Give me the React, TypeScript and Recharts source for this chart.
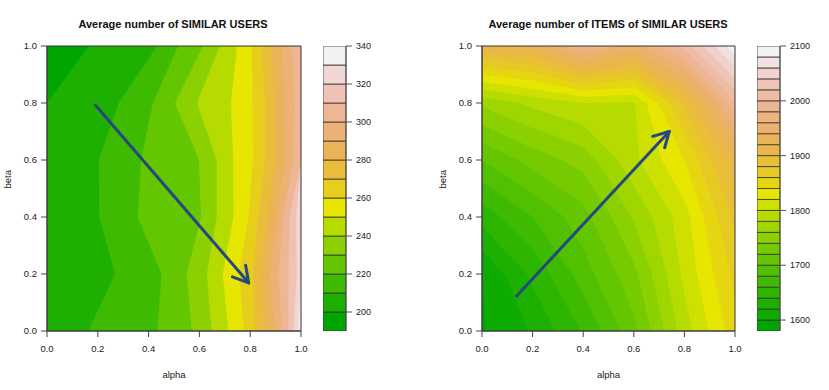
import React from "react";
import { ComposedChart, Area, Bar, XAxis, YAxis, ReferenceLine, ReferenceArea } from "recharts";

// --- colours (R terrain.colors) ---
const TERRAIN_15 = [
  "#00A600", "#1DB000", "#3EBB00", "#63C600", "#8BD000", "#B6DB00", "#E6E600", "#E7CE1D",
  "#E9BD3A", "#EAB358", "#ECB176", "#EEB694", "#EFC2B3", "#F1D6D3", "#F2F2F2",
];
const TERRAIN_26 = [
  "#00A600", "#0EAB00", "#1DB000", "#2DB600", "#3EBB00", "#50C000", "#63C600", "#76CB00",
  "#8BD000", "#A0D600", "#B6DB00", "#CEE000", "#E6E600", "#E6D612", "#E7C924", "#E8BF36",
  "#E9B848", "#EAB35A", "#EBB16D", "#ECB27F", "#EDB592", "#EEBCA5", "#EFC5B8", "#F0D1CB",
  "#F1E0DF", "#F2F2F2",
];

// --- left panel: similar users ---
const USER_TITLE = "Average number of SIMILAR USERS";
const USER_BETA = [0, 0.2, 0.4, 0.6, 0.8, 1];
const USER_LEVELS = [190, 200, 210, 220, 230, 240, 250, 260, 270, 280, 290, 300, 310, 320, 330, 340];
const USER_KEY_TICKS = [200, 220, 240, 260, 280, 300, 320, 340];
// alpha where each level (200 .. 340) is reached, one value per beta row
const USER_EDGES = [
  [0, 0, 0, 0, 0, 0.165],
  [0.162, 0.268, 0.206, 0.204, 0.282, 0.433],
  [0.434, 0.451, 0.357, 0.37, 0.417, 0.516],
  [0.57, 0.55, 0.606, 0.598, 0.504, 0.614],
  [0.648, 0.629, 0.668, 0.668, 0.59, 0.681],
  [0.714, 0.692, 0.734, 0.733, 0.724, 0.748],
  [0.776, 0.756, 0.793, 0.812, 0.81, 0.807],
  [0.819, 0.812, 0.832, 0.858, 0.858, 0.846],
  [0.858, 0.845, 0.871, 0.898, 0.898, 0.886],
  [0.898, 0.878, 0.904, 0.937, 0.93, 0.925],
  [0.924, 0.911, 0.93, 0.97, 0.976, 0.965],
  [0.95, 0.95, 0.955, 1, 1, 1],
  [0.97, 0.983, 0.98, 1, 1, 1],
  [0.99, 1, 1, 1, 1, 1],
  [1, 1, 1, 1, 1, 1],
];
const USER_ARROW = [{ x: 0.191, y: 0.792 }, { x: 0.794, y: 0.169 }];
const USER_HEAD = [{ x: 0.782, y: 0.231 }, { x: 0.73, y: 0.19 }];

// --- right panel: items of similar users ---
const ITEM_TITLE = "Average number of ITEMS of SIMILAR USERS";
const ITEM_ALPHA = [0, 0.2, 0.4, 0.6, 0.8, 1];
const ITEM_BETA = [0, 0.2, 0.4, 0.6, 0.8, 1];
// rows = beta, columns = alpha
const ITEM_Z = [
  [1598, 1622, 1662, 1714, 1790, 1852],
  [1600, 1645, 1690, 1735, 1805, 1866],
  [1648, 1680, 1712, 1762, 1812, 1885],
  [1700, 1728, 1748, 1795, 1840, 1914],
  [1765, 1785, 1800, 1798, 1885, 1998],
  [1915, 1925, 1985, 1950, 2008, 2095],
];
const ITEM_LEVELS = [
  1580, 1600, 1620, 1640, 1660, 1680, 1700, 1720, 1740, 1760, 1780, 1800, 1820, 1840,
  1860, 1880, 1900, 1920, 1940, 1960, 1980, 2000, 2020, 2040, 2060, 2080, 2100,
];
const ITEM_KEY_TICKS = [1600, 1700, 1800, 1900, 2000, 2100];
const ITEM_ARROW = [{ x: 0.137, y: 0.123 }, { x: 0.74, y: 0.7 }];
const ITEM_HEAD = [{ x: 0.675, y: 0.683 }, { x: 0.722, y: 0.643 }];

const AXIS_TICKS = [0, 0.2, 0.4, 0.6, 0.8, 1];
const ARROW_COLOR = "#26497d";
const TICK_STYLE = { fontSize: 9.5, fill: "#222" };

// left table: one row per beta, one key per level edge
const userRows = USER_BETA.map((b, j) => {
  const row: Record<string, number> = { beta: b };
  USER_EDGES.forEach((e, k) => (row[`e${k}`] = e[j]));
  return row;
});

// right table: contour line of each level, as in filled.contour (straight inside each cell)
type Pt = { a: number; b: number };
function levelEdge(L: number): Pt[] {
  const pts: Pt[] = [];
  for (let i = 0; i < ITEM_ALPHA.length; i++) {
    const col = ITEM_Z.map((r) => r[i]);
    let b = 0;
    if (L >= col[col.length - 1]) b = 1;
    else if (L > col[0]) {
      for (let j = 0; j < col.length - 1; j++) {
        if (L >= col[j] && L < col[j + 1]) {
          b = ITEM_BETA[j] + ((L - col[j]) / (col[j + 1] - col[j])) * (ITEM_BETA[j + 1] - ITEM_BETA[j]);
          break;
        }
      }
    }
    pts.push({ a: ITEM_ALPHA[i], b });
    if (i < ITEM_ALPHA.length - 1) {
      ITEM_Z.forEach((row, j) => {
        const z0 = row[i];
        const z1 = row[i + 1];
        if ((L - z0) * (L - z1) < 0) {
          pts.push({
            a: ITEM_ALPHA[i] + ((L - z0) / (z1 - z0)) * (ITEM_ALPHA[i + 1] - ITEM_ALPHA[i]),
            b: ITEM_BETA[j],
          });
        }
      });
    }
  }
  return pts.sort((p, q) => p.a - q.a);
}

function heightAt(pts: Pt[], a: number) {
  for (let s = 0; s < pts.length - 1; s++) {
    const p = pts[s];
    const q = pts[s + 1];
    if (a >= p.a - 1e-9 && a <= q.a + 1e-9) {
      if (q.a - p.a < 1e-9) return p.b;
      return p.b + ((a - p.a) / (q.a - p.a)) * (q.b - p.b);
    }
  }
  return pts[pts.length - 1].b;
}

const itemEdges = ITEM_LEVELS.map(levelEdge);
const itemAlphas = Array.from(new Set(itemEdges.flat().map((p) => +p.a.toFixed(5)))).sort((x, y) => x - y);
const itemRows = itemAlphas.map((a) => {
  const row: Record<string, number> = { alpha: a };
  itemEdges.forEach((pts, k) => (row[`l${k}`] = heightAt(pts, a)));
  return row;
});

// colour key: one stacked column, an invisible base up to the lowest level
function keyRow(levels: number[]) {
  const row: Record<string, number | string> = { name: "key", base: levels[0] };
  for (let k = 0; k < levels.length - 1; k++) row[`k${k}`] = levels[k + 1] - levels[k];
  return [row];
}

function arrowLines(shaft: { x: number; y: number }[], head: { x: number; y: number }[], id: string) {
  const tip = shaft[1];
  return [
    <ReferenceLine key={`${id}-s`} segment={shaft} stroke={ARROW_COLOR} strokeWidth={3} strokeLinecap="round" />,
    ...head.map((h, i) => (
      <ReferenceLine
        key={`${id}-h${i}`}
        segment={[h, tip]}
        stroke={ARROW_COLOR}
        strokeWidth={3}
        strokeLinecap="round"
      />
    )),
  ];
}

function ColorKey({ levels, colors, ticks, left, axisWidth }: { levels: number[]; colors: string[]; ticks: number[]; left: number; axisWidth: number }) {
  return (
    <div style={{ position: "absolute", left, top: 0 }}>
      <ComposedChart
        width={23 + axisWidth}
        height={390}
        data={keyRow(levels)}
        margin={{ top: 46, right: 0, bottom: 59, left: 0 }}
        barCategoryGap={0}
        barGap={0}
      >
        <XAxis dataKey="name" type="category" hide />
        <YAxis
          orientation="right"
          type="number"
          domain={[levels[0], levels[levels.length - 1]]}
          allowDataOverflow
          ticks={ticks}
          width={axisWidth}
          tick={{ fontSize: 9, fill: "#222" }}
          tickSize={6}
          tickMargin={4}
          stroke="#555"
          interval={0}
        />
        <Bar dataKey="base" stackId="key" fill="none" stroke="none" isAnimationActive={false} />
        {colors.map((c, k) => (
          <Bar
            key={k}
            dataKey={`k${k}`}
            stackId="key"
            fill={c}
            stroke="#333"
            strokeWidth={0.8}
            isAnimationActive={false}
          />
        ))}
      </ComposedChart>
    </div>
  );
}

const titleStyle: React.CSSProperties = {
  position: "absolute",
  top: 17,
  fontSize: 11,
  fontWeight: "bold",
  lineHeight: "14px",
  textAlign: "center",
  color: "#111",
};

export default function App() {
  return (
    <div
      style={{
        position: "fixed",
        left: 0,
        top: 0,
        width: 829,
        height: 390,
        background: "#fff",
        fontFamily: "'Liberation Sans', Arial, sans-serif",
      }}
    >
      <div style={{ ...titleStyle, left: 48, width: 250 }}>{USER_TITLE}</div>
      <div style={{ ...titleStyle, left: 478, width: 260 }}>{ITEM_TITLE}</div>

      {/* similar users: contours are nearly vertical, so draw areas from the beta axis */}
      <div style={{ position: "absolute", left: 0, top: 0 }}>
        <ComposedChart width={310} height={390} layout="vertical" data={userRows} margin={{ top: 46, right: 9, bottom: 0, left: 0 }}>
          <XAxis
            type="number"
            domain={[0, 1]}
            ticks={AXIS_TICKS}
            tickFormatter={(v: number) => v.toFixed(1)}
            height={59}
            tick={TICK_STYLE}
            tickSize={6}
            tickMargin={8}
            stroke="#444"
            interval={0}
            label={{ value: "alpha", position: "insideBottom", offset: 12, fontSize: 9.5, fill: "#222" }}
          />
          <YAxis
            type="number"
            dataKey="beta"
            domain={[0, 1]}
            reversed
            ticks={AXIS_TICKS}
            tickFormatter={(v: number) => v.toFixed(1)}
            width={47}
            tick={TICK_STYLE}
            tickSize={6}
            tickMargin={4}
            stroke="#444"
            interval={0}
            label={{ value: "beta", angle: -90, position: "insideLeft", offset: 8, fontSize: 9.5, fill: "#222" }}
          />
          {USER_EDGES.map((_, i) => {
            const k = USER_EDGES.length - 1 - i;
            return (
              <Area
                key={k}
                dataKey={`e${k}`}
                type="linear"
                fill={TERRAIN_15[k]}
                fillOpacity={1}
                stroke="none"
                dot={false}
                activeDot={false}
                isAnimationActive={false}
              />
            );
          })}
          <ReferenceArea x1={0} x2={1} y1={0} y2={1} fill="none" stroke="#333" strokeWidth={1} />
          {arrowLines(USER_ARROW, USER_HEAD, "u")}
        </ComposedChart>
      </div>
      <ColorKey levels={USER_LEVELS} colors={TERRAIN_15} ticks={USER_KEY_TICKS} left={323} axisWidth={37} />

      {/* items of similar users */}
      <div style={{ position: "absolute", left: 435, top: 0 }}>
        <ComposedChart width={310} height={390} data={itemRows} margin={{ top: 46, right: 10, bottom: 0, left: 0 }}>
          <XAxis
            dataKey="alpha"
            type="number"
            domain={[0, 1]}
            ticks={AXIS_TICKS}
            tickFormatter={(v: number) => v.toFixed(1)}
            height={59}
            tick={TICK_STYLE}
            tickSize={6}
            tickMargin={8}
            stroke="#444"
            interval={0}
            label={{ value: "alpha", position: "insideBottom", offset: 12, fontSize: 9.5, fill: "#222" }}
          />
          <YAxis
            type="number"
            domain={[0, 1]}
            ticks={AXIS_TICKS}
            tickFormatter={(v: number) => v.toFixed(1)}
            width={47}
            tick={TICK_STYLE}
            tickSize={6}
            tickMargin={4}
            stroke="#444"
            interval={0}
            label={{ value: "beta", angle: -90, position: "insideLeft", offset: 8, fontSize: 9.5, fill: "#222" }}
          />
          {TERRAIN_26.map((_, i) => {
            const k = TERRAIN_26.length - i; // level index of band's upper edge
            return (
              <Area
                key={k}
                dataKey={`l${k}`}
                type="linear"
                fill={TERRAIN_26[k - 1]}
                fillOpacity={1}
                stroke="none"
                dot={false}
                activeDot={false}
                isAnimationActive={false}
              />
            );
          })}
          <ReferenceArea x1={0} x2={1} y1={0} y2={1} fill="none" stroke="#333" strokeWidth={1} />
          {arrowLines(ITEM_ARROW, ITEM_HEAD, "i")}
        </ComposedChart>
      </div>
      <ColorKey levels={ITEM_LEVELS} colors={TERRAIN_26} ticks={ITEM_KEY_TICKS} left={757} axisWidth={49} />
    </div>
  );
}
